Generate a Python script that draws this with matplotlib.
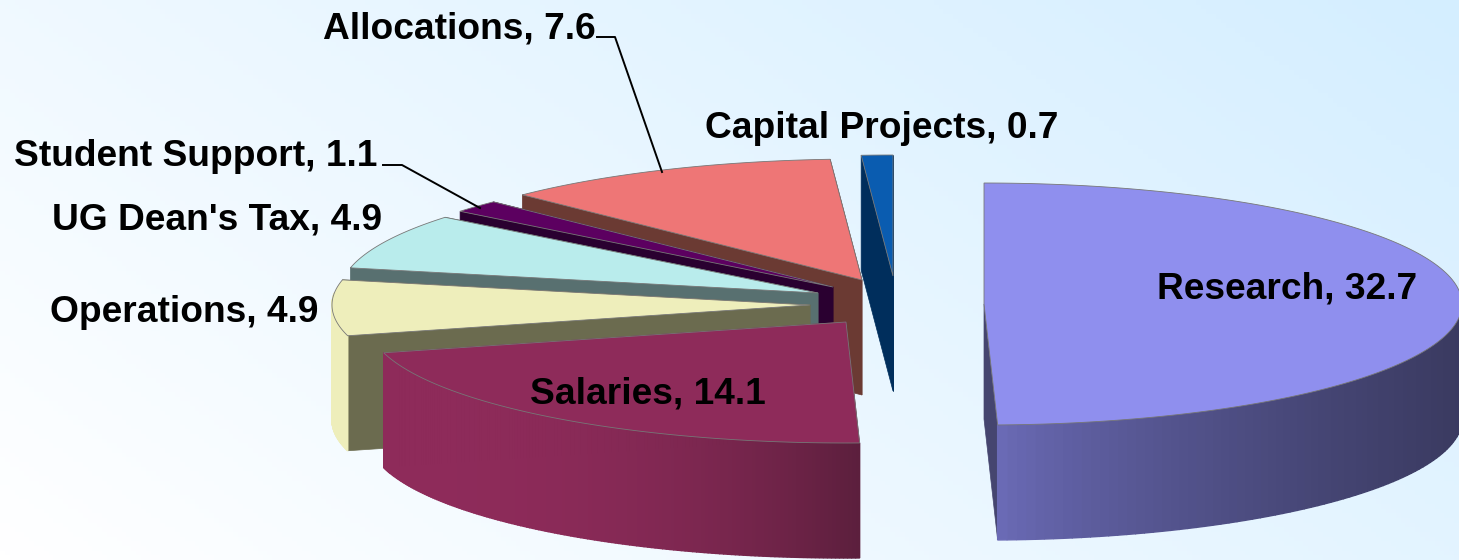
import numpy as np
import matplotlib
matplotlib.use("Agg")
import matplotlib.pyplot as plt
from matplotlib.colors import LinearSegmentedColormap, to_rgb
from matplotlib.patches import Polygon

plt.rcParams['font.family'] = ['Liberation Sans', 'DejaVu Sans']

# data, clockwise from 12 o'clock
categories = ["Research", "Salaries", "Operations", "UG Dean's Tax", "Student Support", "Allocations", "Capital Projects"]
values = [32.7, 14.1, 4.9, 4.9, 1.1, 7.6, 0.7]

# styles
top_colors = ["#8f8fee", "#8e2b5a", "#eeeebb", "#b9ecec", "#5c0060", "#ee7676", "#0a5cb0"]
cut_colors = ["#45456f", "#6b1f42", "#6b6b4f", "#587070", "#2a0030", "#6b3a33", "#002e5c"]
rim_left = ["#7070c0", "#8e2b5a", "#eeeebb", "#b9ecec", "#5c0060", "#ee7676", "#0a5cb0"]
rim_right = ["#3a3a60", "#5c1f3d", "#eeeebb", "#b9ecec", "#5c0060", "#ee7676", "#0a5cb0"]
rim_gamma = [0.7, 2.5, 1, 1, 1, 1, 1]

# exploded apex of each slice in pixels
apex_x = [984, 846, 810, 818, 833, 862, 893]
apex_y = [304, 322, 305, 293, 287, 280, 276]
RX, RY, DEPTH = 478, 121, 115

fig = plt.figure(figsize=(14.59, 5.6), dpi=100)
ax = fig.add_axes([0, 0, 1, 1])
ax.set_xlim(0, 1459)
ax.set_ylim(560, 0)
ax.axis("off")

# background, white at lower left to pale blue at upper right
gx, gy = np.meshgrid(np.linspace(0, 1, 300), np.linspace(0, 1, 120))
bg = LinearSegmentedColormap.from_list("bg", ["#ffffff", "#d4eeff"])
ax.imshow(0.65 * gx + 0.35 * (1 - gy), cmap=bg, vmin=0, vmax=1, extent=(0, 1459, 560, 0), aspect="auto", zorder=0)


def rim_point(cx, cy, t):
    return cx + RX * np.sin(t), cy - RY * np.cos(t)


bounds = np.cumsum([0] + values) / sum(values) * 2 * np.pi
order = [6, 5, 4, 3, 2, 1, 0]
z = 1
for i in order:
    cx, cy = apex_x[i], apex_y[i]
    t0, t1 = bounds[i], bounds[i + 1]
    ts = np.linspace(t0, t1, 160)
    xs, ys = rim_point(cx, cy, ts)

    # cut faces
    for t in (t1, t0):
        ex, ey = rim_point(cx, cy, t)
        ax.add_patch(Polygon([(cx, cy), (ex, ey), (ex, ey + DEPTH), (cx, cy + DEPTH)], closed=True,
                             fc=cut_colors[i], ec=cut_colors[i], lw=0.5, zorder=z))
    z += 1

    # outer rim, small quads for the shading
    c0, c1 = np.array(to_rgb(rim_left[i])), np.array(to_rgb(rim_right[i]))
    xmin, xmax = xs.min(), xs.max()
    for k in range(len(ts) - 1):
        if np.cos(ts[k]) > 0.1:
            continue
        f = ((xs[k] - xmin) / max(xmax - xmin, 1)) ** rim_gamma[i]
        col = c0 + (c1 - c0) * f
        ax.add_patch(Polygon([(xs[k], ys[k]), (xs[k + 1], ys[k + 1]), (xs[k + 1], ys[k + 1] + DEPTH), (xs[k], ys[k] + DEPTH)],
                             closed=True, fc=col, ec=col, lw=1.0, zorder=z))
    z += 1

    # top face
    ax.add_patch(Polygon(np.column_stack([np.r_[cx, xs], np.r_[cy, ys]]), closed=True,
                         fc=top_colors[i], ec="#777777", lw=0.6, zorder=z))
    z += 1

# leader lines
ax.plot([597, 615, 662], [37, 37, 172], color="black", lw=1.4, zorder=z)
ax.plot([383, 402, 480], [165, 165, 208], color="black", lw=1.4, zorder=z)

# labels
label_x = [1157, 530, 50, 52, 14, 323, 705]
label_y = [289, 394, 313, 220, 157, 29, 128]
for name, val, lx, ly in zip(categories, values, label_x, label_y):
    ax.text(lx, ly, f"{name}, {val}", fontsize=26.7, fontweight="bold", color="black",
            ha="left", va="center", zorder=z + 1)

fig.savefig("out.png", dpi=100)
